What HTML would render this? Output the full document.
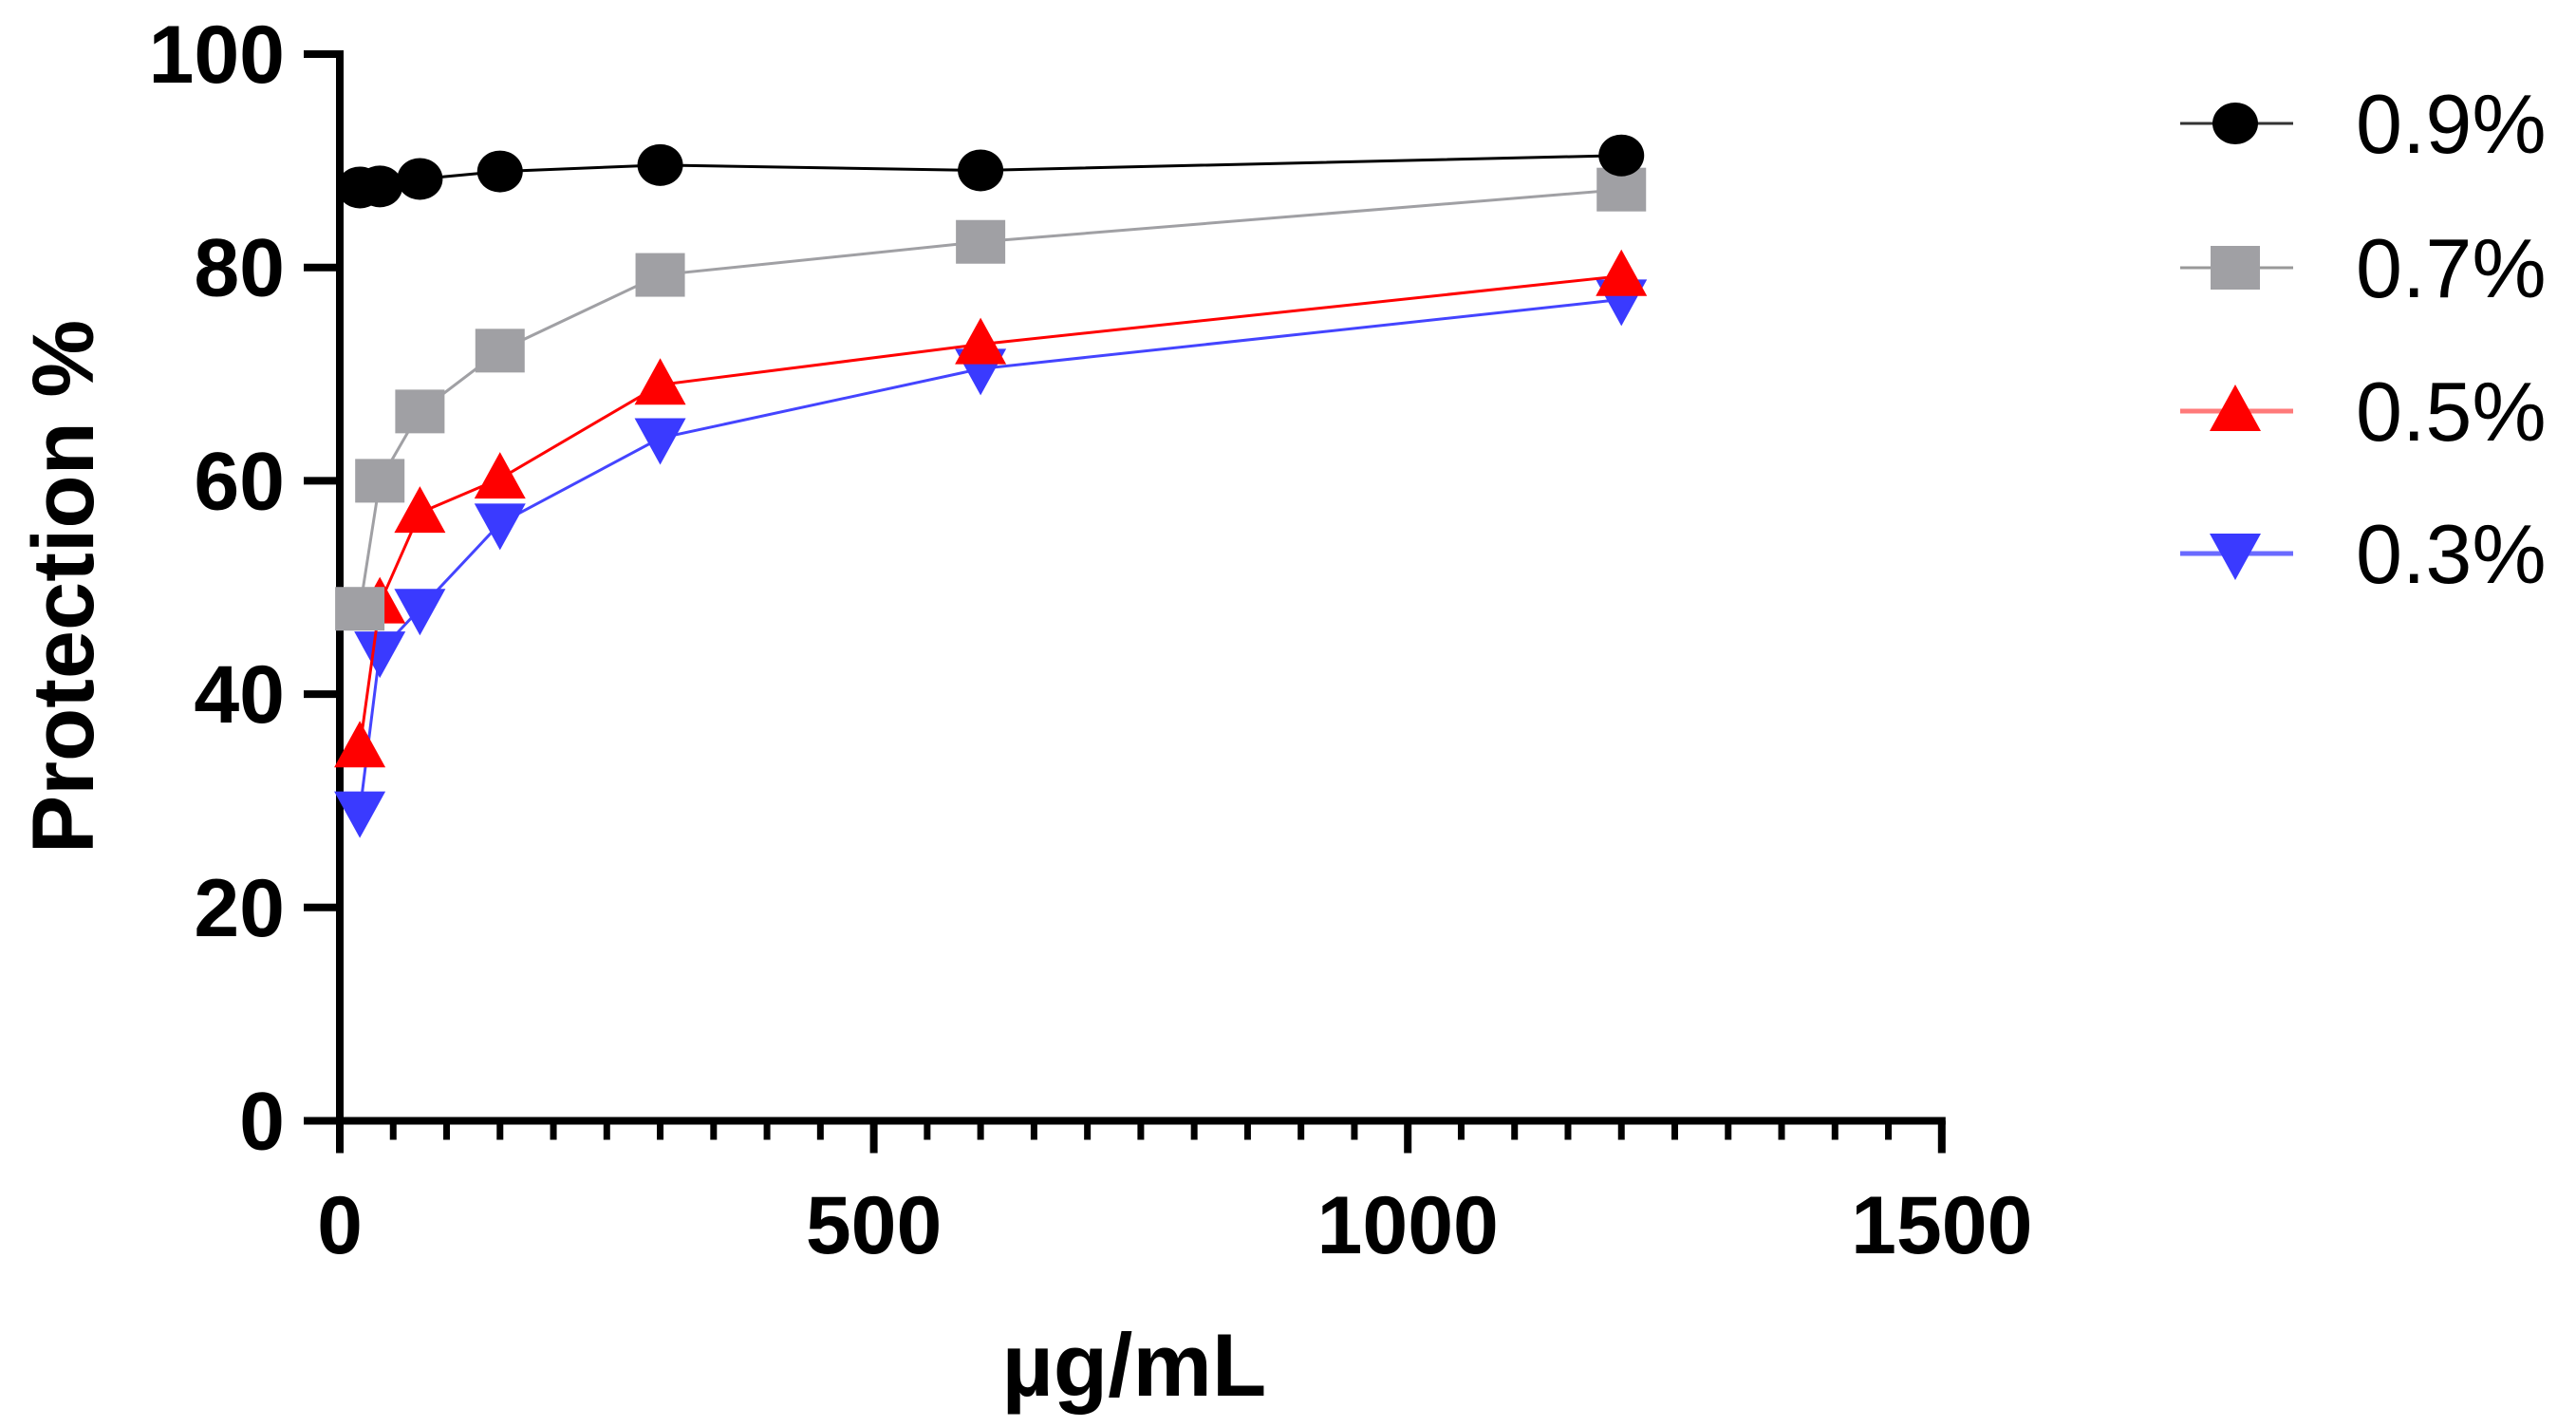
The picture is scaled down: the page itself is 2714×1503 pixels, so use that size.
<!DOCTYPE html>
<html><head><meta charset="utf-8"><style>
html,body{margin:0;padding:0;background:#fff;}
svg{display:block;font-family:"Liberation Sans",Arial,sans-serif;}
</style></head><body>
<svg id="chart" width="2714" height="1503" viewBox="0 0 2714 1503" xmlns="http://www.w3.org/2000/svg"></svg>
<script>
const xValues = [18.75, 37.5, 75, 150, 300, 600, 1200];
const s09 = [87.5, 87.6, 88.3, 89.0, 89.6, 89.1, 90.5];
const s07 = [48.0, 60.0, 66.5, 72.2, 79.3, 82.4, 87.3];
const s05 = [35.0, 48.5, 57.0, 60.2, 69.0, 72.8, 79.2];
const s03 = [29.0, 44.0, 48.0, 56.0, 64.0, 70.5, 77.0];
const seriesNames = ["0.9%", "0.7%", "0.5%", "0.3%"];
const yTicks = [0, 20, 40, 60, 80, 100];
const xTicks = [0, 500, 1000, 1500];

const NS = "http://www.w3.org/2000/svg";
const svg = document.getElementById("chart");
const X0 = 358, XPU = 1.1252, Y0 = 1180.5, YPU = 11.235;
function xs(v){ return X0 + v*XPU; }
function ys(v){ return Y0 - v*YPU; }
function mk(tag, attrs, parent){
  const e = document.createElementNS(NS, tag);
  for (const k in attrs) e.setAttribute(k, attrs[k]);
  (parent||svg).appendChild(e);
  return e;
}
const axes = mk("g", {});


let yl = mk("line", {x1:X0, y1:ys(100)-4, x2:X0, y2:Y0+4, stroke:"#000","stroke-width":8}, axes);


let xl = mk("line", {x1:X0-4, y1:Y0, x2:xs(1500)+4, y2:Y0, stroke:"#000","stroke-width":8}, axes);


yTicks.forEach(t=>{
  const l = mk("line",{x1:X0-38,y1:ys(t),x2:X0,y2:ys(t),stroke:"#000","stroke-width":8},axes);
  
  
  const tx = mk("text",{x:300,y:ys(t)+30,"text-anchor":"end","font-size":86,"font-weight":"bold"},axes);
  tx.textContent = t;
  
  
});
for (let v=50; v<1500; v+=50){
  if (v%500===0) continue;
  const l = mk("line",{x1:xs(v),y1:Y0,x2:xs(v),y2:Y0+20,stroke:"#000","stroke-width":7},axes);
  
  
}
xTicks.forEach(t=>{
  const l = mk("line",{x1:xs(t),y1:Y0,x2:xs(t),y2:Y0+34,stroke:"#000","stroke-width":8},axes);
  
  
  const tx = mk("text",{x:xs(t),y:1320,"text-anchor":"middle","font-size":86,"font-weight":"bold"},axes);
  tx.textContent = t;
  
  
});
const xt = mk("text",{x:1195,y:1470,"text-anchor":"middle","font-size":94,"font-weight":"bold"});
xt.textContent = "µg/mL";


const yt = mk("text",{x:0,y:0,transform:"translate(98,618) rotate(-90)","text-anchor":"middle","font-size":92,"font-weight":"bold"});
yt.textContent = "Protection %";



function marker(kind, cx, cy, color, parent){
  let e;
  if (kind==="circle") e = mk("ellipse",{cx:cx,cy:cy,rx:24,ry:22,fill:color},parent);
  else if (kind==="square") e = mk("rect",{x:cx-26,y:cy-23,width:52,height:46,fill:color},parent);
  else if (kind==="up") e = mk("polygon",{points:`${cx},${cy-28} ${cx+27},${cy+21} ${cx-27},${cy+21}`,fill:color},parent);
  else e = mk("polygon",{points:`${cx},${cy+28} ${cx+27},${cy-21} ${cx-27},${cy-21}`,fill:color},parent);
  return e;
}
const series = [
  {vals:s09, color:"#000", line:"#000", kind:"circle", key:"0-9"},
  {vals:s07, color:"#a0a0a4", line:"#a0a0a4", kind:"square", key:"0-7"},
  {vals:s05, color:"#ff0000", line:"#ff0000", kind:"up", key:"0-5"},
  {vals:s03, color:"#3a3aff", line:"#4444ff", kind:"down", key:"0-3"}
];
[3,2,1,0].forEach(i=>{
  const s = series[i];
  const g = mk("g",{});
  
  
  const pts = s.vals.map((v,j)=>xs(xValues[j])+","+ys(v)).join(" ");
  const pl = mk("polyline",{points:pts,fill:"none",stroke:s.line,"stroke-width":3},g);
  
  
  s.vals.forEach((v,j)=>{
    const m = marker(s.kind, xs(xValues[j]), ys(v), s.color, g);
    
    
  });
});
const legY = [130, 282, 433, 583];
const lg = mk("g",{});


series.forEach((s,i)=>{
  const g = mk("g",{},lg);
  
  
  const lc = i===2 ? "#ff7a7a" : (i===3 ? "#6a6aff" : (i===0 ? "#333" : "#999"));
  mk("line",{x1:2297,y1:legY[i],x2:2416,y2:legY[i],stroke:lc,"stroke-width":i>=2?5:3},g);
  marker(s.kind, 2355, legY[i], s.color, g);
  const t = mk("text",{x:2482,y:legY[i]+31,"font-size":88},g);
  t.textContent = seriesNames[i];
});
</script>
</body></html>
